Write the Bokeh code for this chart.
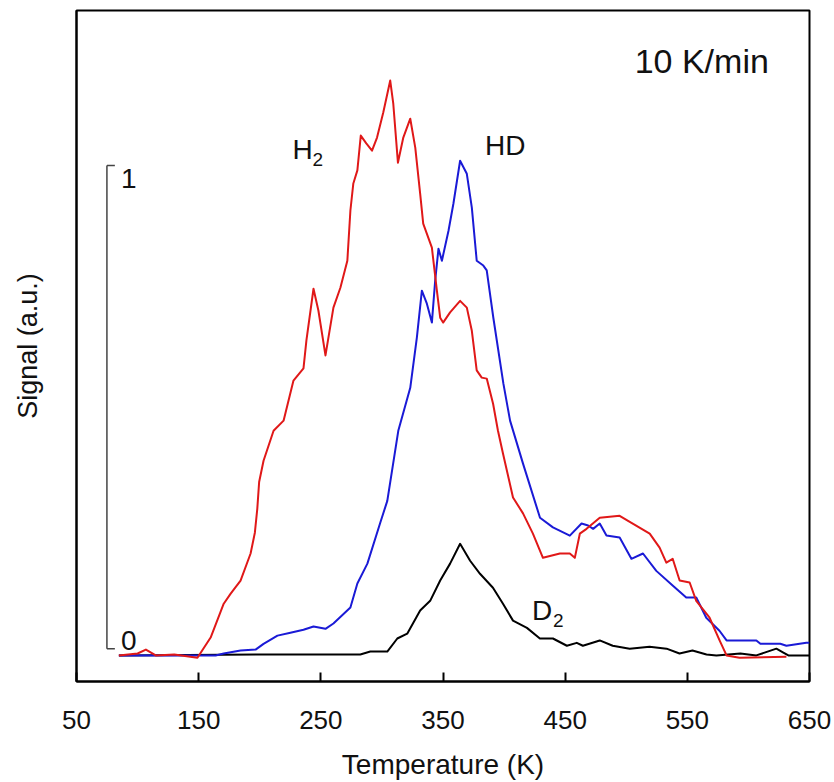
from bokeh.plotting import figure
from bokeh.models import Range1d, FixedTicker
from bokeh.core.properties import value
from bokeh.embed import file_html
from bokeh.resources import INLINE

# ---- data ----
h2_temp = [84.7, 100, 106.8, 114.9, 130, 149.0, 159.8, 170.5, 176.2, 184.3, 192.5, 196.0, 198.0, 199.5, 203.1,
           211.3, 219.5, 227.6, 235.8, 238.2, 244.0, 248.0, 253.8, 260.3, 266.0, 271.7, 274.2,
           276.6, 279.9, 282.7, 287.2, 291.9, 296.0, 301.1, 306.8, 309.3, 313.1, 317.5, 323.2,
           327.3, 331.3, 333.8, 340.9, 345.0, 347.7, 350.1, 355.8, 364.0, 369.5, 373.6, 377.6,
           381.7, 385.8, 391.0, 395.0, 399.1, 407.3, 415.5, 423.6, 431.8, 445.7, 453.8, 457.9,
           462.0, 467.5, 478.3, 494.6, 505.3, 519.2, 527.3, 532.8, 538.0, 543.7, 551.9, 557.3,
           568.2, 576.4, 582.1, 592.7, 631.1]
h2_signal = [-0.014, -0.010, -0.002, -0.014, -0.012, -0.019, 0.023, 0.093, 0.114, 0.141, 0.197, 0.240, 0.290, 0.345, 0.389,
             0.451, 0.472, 0.555, 0.580, 0.638, 0.745, 0.700, 0.607, 0.706, 0.747, 0.803, 0.907,
             0.963, 0.990, 1.062, 1.046, 1.031, 1.058, 1.110, 1.176, 1.128, 1.006, 1.058, 1.097,
             1.037, 0.942, 0.880, 0.830, 0.741, 0.685, 0.675, 0.696, 0.720, 0.706, 0.658, 0.576,
             0.561, 0.559, 0.507, 0.451, 0.404, 0.313, 0.280, 0.238, 0.188, 0.197, 0.197, 0.188,
             0.238, 0.248, 0.271, 0.275, 0.259, 0.238, 0.209, 0.178, 0.186, 0.141, 0.137, 0.099,
             0.064, 0.017, -0.014, -0.019, -0.017]

hd_temp = [84.7, 163.9, 170.5, 184.3, 196.6, 203.1, 214.5, 225.1, 235.8, 244.0, 253.8, 260.3, 274.2,
           279.9, 288.1, 298.7, 304.4, 313.4, 323.2, 328.6, 332.7, 336.8, 340.9, 343.6, 346.3,
           349.1, 354.5, 358.5, 364.0, 369.5, 373.6, 377.6, 383.0, 385.8, 391.2, 399.4, 404.9,
           415.5, 429.4, 440.0, 453.8, 463.4, 468.8, 472.9, 478.3, 483.8, 494.6, 504.2, 513.7,
           524.6, 538.2, 549.1, 557.3, 565.5, 576.3, 582.1, 606.5, 609.8, 626.1, 631.1, 647.4, 650.0]
hd_signal = [-0.014, -0.014, -0.010, -0.004, -0.002, 0.010, 0.027, 0.033, 0.039, 0.046, 0.041, 0.052, 0.085,
             0.135, 0.176, 0.261, 0.306, 0.451, 0.540, 0.644, 0.741, 0.714, 0.675, 0.762, 0.828,
             0.803, 0.865, 0.921, 1.010, 0.983, 0.913, 0.803, 0.793, 0.783, 0.685, 0.549, 0.472,
             0.383, 0.271, 0.251, 0.234, 0.259, 0.255, 0.248, 0.259, 0.234, 0.230, 0.186, 0.197,
             0.161, 0.130, 0.106, 0.106, 0.064, 0.037, 0.017, 0.017, 0.010, 0.010, 0.006, 0.012, 0.012]

d2_temp = [84.7, 217.1, 244.0, 282.3, 290.5, 304.4, 312.6, 320.7, 331.3, 339.5, 347.7, 355.8, 364.0,
           372.2, 380.3, 390.9, 399.1, 407.3, 418.7, 429.3, 440.0, 451.4, 459.5, 464.5, 478.3,
           488.9, 502.8, 519.1, 533.0, 543.6, 554.2, 565.7, 573.8, 593.4, 606.5, 622.9, 628.6,
           632.7, 650.0]
d2_signal = [-0.014, -0.012, -0.012, -0.012, -0.006, -0.006, 0.021, 0.031, 0.079, 0.099, 0.141, 0.176, 0.217,
             0.182, 0.155, 0.126, 0.093, 0.058, 0.043, 0.021, 0.021, 0.006, 0.012, 0.006, 0.017,
             0.006, 0.000, 0.004, 0.000, -0.010, -0.004, -0.012, -0.014, -0.010, -0.014, 0.000, -0.008,
             -0.014, -0.014]

x_ticks = [50, 150, 250, 350, 450, 550, 650]
scale_bar = [0, 1]
scale_labels = ["0", "1"]

FONT = "Liberation Sans"

p = figure(width=834, height=782, output_backend="svg", toolbar_location=None,
           x_range=Range1d(50, 650), y_range=Range1d(-0.068, 1.321),
           min_border_left=76, min_border_right=25, min_border_top=10, min_border_bottom=101)
p.background_fill_color = "white"
p.border_fill_color = "white"
p.outline_line_color = "black"
p.outline_line_width = 2
p.xgrid.visible = False
p.ygrid.visible = False

# x axis
xa = p.xaxis[0]
xa.ticker = FixedTicker(ticks=x_ticks)
xa.minor_tick_line_color = None
xa.major_tick_in = 9
xa.major_tick_out = 0
xa.major_tick_line_width = 2
xa.axis_line_width = 2
xa.major_label_text_font = FONT
xa.major_label_text_font_size = "26px"
xa.major_label_text_color = "#111111"
xa.major_label_standoff = 29
xa.axis_label = "Temperature (K)"
xa.axis_label_text_font = FONT
xa.axis_label_text_font_size = "28px"
xa.axis_label_text_font_style = "normal"
xa.axis_label_text_color = "#111111"
xa.axis_label_standoff = 17

# y axis: label only
ya = p.yaxis[0]
ya.ticker = FixedTicker(ticks=[])
ya.major_tick_line_color = None
ya.minor_tick_line_color = None
ya.major_label_text_font_size = "0px"
ya.major_label_standoff = 0
ya.major_tick_in = 0
ya.major_tick_out = 0
ya.axis_line_width = 2
ya.axis_label = "Signal (a.u.)"
ya.axis_label_text_font = FONT
ya.axis_label_text_font_size = "27px"
ya.axis_label_text_font_style = "normal"
ya.axis_label_text_color = "#111111"
ya.axis_label_standoff = 34

# curves
p.line(d2_temp, d2_signal, line_color="black", line_width=2, line_join="round")
p.line(hd_temp, hd_signal, line_color="#1a1ad6", line_width=2, line_join="round")
p.line(h2_temp, h2_signal, line_color="#e01818", line_width=2, line_join="round")

# scale bar
bar_x = 74.9
bar_tick_end = 81.4
p.segment(x0=[bar_x], y0=[scale_bar[0]], x1=[bar_x], y1=[scale_bar[1]], line_color="#444444", line_width=1.5)
p.segment(x0=[bar_x, bar_x], y0=scale_bar, x1=[bar_tick_end, bar_tick_end], y1=scale_bar,
          line_color="#444444", line_width=1.5)
p.text(x=[86.4, 86.4], y=[0.017, 0.974], text=scale_labels, text_font=value(FONT),
       text_font_size="28px", text_baseline="middle", text_align="left", text_color="#111111")

# labels
p.text(x=[226.8, 384.4, 422.8], y=[1.033, 1.042, 0.079], text=["H", "HD", "D"],
       text_font=value(FONT), text_font_size="28px", text_baseline="middle",
       text_align="left", text_color="#111111")
p.text(x=[243.1, 440.0], y=[1.013, 0.058], text=["2", "2"],
       text_font=value(FONT), text_font_size="19px", text_baseline="middle",
       text_align="left", text_color="#111111")
p.text(x=[506.9], y=[1.217], text=["10 K/min"], text_font=value(FONT), text_font_size="34px",
       text_baseline="middle", text_align="left", text_color="#111111")

open("out.html", "w").write(file_html(p, INLINE))
